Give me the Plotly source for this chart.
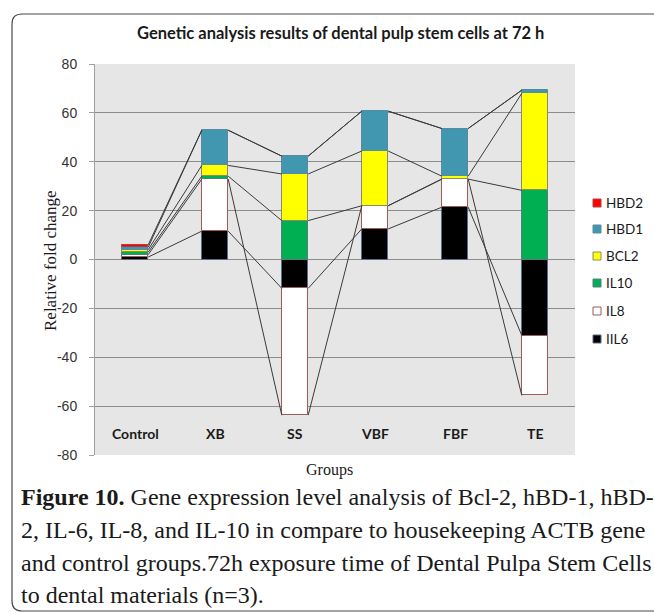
import plotly.graph_objects as go

# ---------------- data ----------------
groups = ["Control", "XB", "SS", "VBF", "FBF", "TE"]
series_names = ["IIL6", "IL8", "IL10", "BCL2", "HBD1", "HBD2"]
IIL6 = [1.0, 11.6, -11.8, 12.5, 21.4, -31.1]
IL8 = [1.0, 21.3, -51.9, 9.5, 11.5, -24.5]
IL10 = [1.0, 1.2, 15.9, 0.0, 0.0, 28.3]
BCL2 = [1.0, 4.4, 19.1, 22.4, 1.2, 39.7]
HBD1 = [1.0, 14.4, 7.3, 16.3, 19.5, 1.3]
HBD2 = [1.0, 0.0, 0.0, 0.0, 0.0, 0.0]
series_values = [IIL6, IL8, IL10, BCL2, HBD1, HBD2]
y_ticks = [-80, -60, -40, -20, 0, 20, 40, 60, 80]
y_ticktext = ["-80", "-60", "-40", "-20", "0", "20", "40", "60", "80"]

fill_colors = ["#000000", "#ffffff", "#00b050", "#ffff00", "#4196b0", "#ff0000"]
edge_colors = ["#5a6a8a", "#a05a5a", "#5a7a8a", "#8a8a6a", "#5a8aa0", "#b04040"]

W, H = 654, 613
L, R, T, B = 95, 575, 64, 455   # plot-area pixel box
BAR_W = 0.33


def px2x(px):
    return (px - L) / (R - L)


def py2y(py):
    return (B - py) / (B - T)


fig = go.Figure()
xs = list(range(len(groups)))
for name, vals, fc, ec in zip(series_names, series_values, fill_colors, edge_colors):
    fig.add_trace(go.Bar(
        x=xs, y=vals, name=name, width=BAR_W,
        marker=dict(color=fc, line=dict(color=ec, width=[1 if v != 0 else 0 for v in vals])),
        showlegend=False,
    ))

# series lines (Excel-style) connecting stacked segment ends
pos_cum = [0.0] * len(groups)
neg_cum = [0.0] * len(groups)
for vals in series_values:
    ends = []
    for i, v in enumerate(vals):
        if v >= 0:
            pos_cum[i] += v
            ends.append(pos_cum[i])
        else:
            neg_cum[i] += v
            ends.append(neg_cum[i])
    lx, ly = [], []
    for i in range(len(groups) - 1):
        lx += [xs[i] + BAR_W / 2, xs[i + 1] - BAR_W / 2, None]
        ly += [ends[i], ends[i + 1], None]
    fig.add_trace(go.Scatter(x=lx, y=ly, mode="lines",
                             line=dict(color="#3a3a3a", width=1),
                             showlegend=False, hoverinfo="skip"))

annotations = []
# category labels placed inside plot area (low position)
for i, g in enumerate(groups):
    annotations.append(dict(x=xs[i], y=-71, xref="x", yref="y", text=g,
                            showarrow=False, xanchor="center", yanchor="middle",
                            font=dict(family="Lato", size=14, color="#1a1a1a", weight="bold")))

# manual legend
leg_y = [203, 229, 256, 283, 311, 339]
for k, idx in enumerate(reversed(range(len(series_names)))):
    py = leg_y[k]
    fig.add_shape(type="rect", xref="paper", yref="paper",
                  x0=px2x(593), x1=px2x(601), y0=py2y(py + 4), y1=py2y(py - 4),
                  fillcolor=fill_colors[idx], line=dict(color=edge_colors[idx], width=1))
    annotations.append(dict(x=px2x(604), y=py2y(py), xref="paper", yref="paper",
                            text=series_names[idx], showarrow=False, xanchor="left",
                            yanchor="middle",
                            font=dict(family="Lato", size=13.5, color="#1a1a1a")))

# title
annotations.append(dict(x=px2x(340), y=py2y(33), xref="paper", yref="paper",
                        text="<b>Genetic analysis results of dental pulp stem cells at 72 h</b>",
                        showarrow=False, xanchor="center", yanchor="middle",
                        font=dict(family="Lato", size=16.5, color="#1a1a1a")))
# axis titles
annotations.append(dict(x=px2x(50), y=py2y(261), xref="paper", yref="paper",
                        text="Relative fold change", textangle=-90, showarrow=False,
                        xanchor="center", yanchor="middle",
                        font=dict(family="Liberation Serif", size=17, color="#1a1a1a")))
annotations.append(dict(x=px2x(329), y=py2y(470), xref="paper", yref="paper",
                        text="Groups", showarrow=False, xanchor="center", yanchor="middle",
                        font=dict(family="Liberation Serif", size=16, color="#1a1a1a")))

# caption
caption = [
    "<b>Figure 10.</b> Gene expression level analysis of Bcl-2, hBD-1, hBD-",
    "2, IL-6, IL-8, and IL-10 in compare to housekeeping ACTB gene",
    "and control groups.72h exposure time of Dental Pulpa Stem Cells",
    "to dental materials (n=3).",
]
cap_y = [497, 530, 563, 595]
for line, cy in zip(caption, cap_y):
    annotations.append(dict(x=px2x(19), y=py2y(cy), xref="paper", yref="paper",
                            text=line, showarrow=False, xanchor="left", yanchor="middle",
                            font=dict(family="Liberation Serif", size=24, color="#1a1a1a")))

# rounded frame around the figure
fx0, fy0, fx1, fy1, r = 12, 14, 664, 611, 10
path = (f"M {px2x(fx1)},{py2y(fy0)} L {px2x(fx0 + r)},{py2y(fy0)} "
        f"Q {px2x(fx0)},{py2y(fy0)} {px2x(fx0)},{py2y(fy0 + r)} "
        f"L {px2x(fx0)},{py2y(fy1 - r)} "
        f"Q {px2x(fx0)},{py2y(fy1)} {px2x(fx0 + r)},{py2y(fy1)} "
        f"L {px2x(fx1)},{py2y(fy1)}")
fig.add_shape(type="path", xref="paper", yref="paper", path=path,
              line=dict(color="#4a4a4a", width=1.2))

fig.update_layout(
    width=W, height=H,
    margin=dict(l=L, r=W - R, t=T, b=H - B, pad=0),
    paper_bgcolor="white", plot_bgcolor="#e6e6e6",
    barmode="relative", bargap=0,
    annotations=annotations,
    showlegend=False,
)
fig.update_xaxes(range=[-0.5, 5.5], showticklabels=False, showgrid=False,
                 zeroline=False, ticks="", fixedrange=True)
fig.update_yaxes(range=[-80, 80], tickvals=y_ticks, ticktext=y_ticktext, showgrid=True,
                 gridcolor="#8c8c8c", gridwidth=1, zeroline=True,
                 zerolinecolor="#8c8c8c", zerolinewidth=1,
                 showline=True, linecolor="#a0a0a0", linewidth=1,
                 ticks="outside", ticklen=5, tickcolor="#a0a0a0",
                 ticklabelstandoff=9,
                 tickfont=dict(family="Liberation Sans", size=14, color="#333333"))

fig.write_html("out.html", config={"displayModeBar": False},
               post_script="document.body.style.margin='0';document.body.style.overflow='hidden';")
